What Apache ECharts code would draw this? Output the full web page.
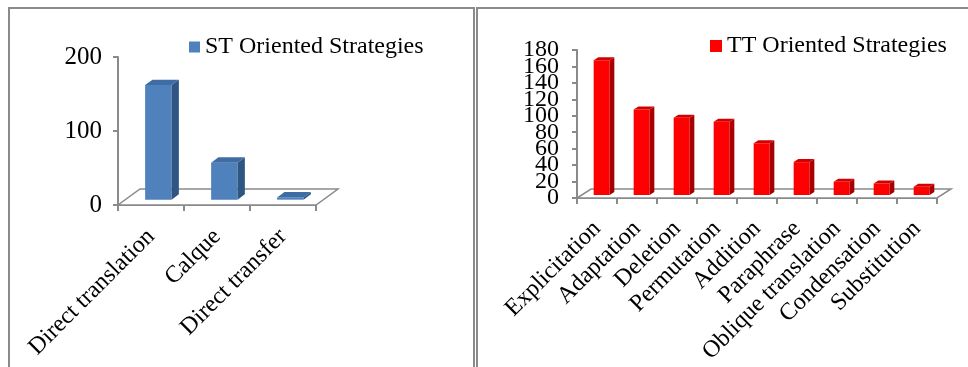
<!DOCTYPE html>
<html>
<head>
<meta charset="utf-8">
<script src="https://cdn.jsdelivr.net/npm/echarts@6/dist/echarts.min.js"></script>
<style>
  html, body { margin: 0; padding: 0; background: #fff; }
  #chart { width: 968px; height: 367px; }
</style>
</head>
<body>
<div id="chart"></div>
<script>
var stNames = ['Direct translation', 'Calque', 'Direct transfer'];
var stValues = [155, 50, 3];
var stTicks = [0, 100, 200];

var ttNames = ['Explicitation', 'Adaptation', 'Deletion', 'Permutation', 'Addition',
    'Paraphrase', 'Oblique translation', 'Condensation', 'Substitution'];
var ttValues = [164, 104, 94, 89, 63, 40, 16, 14, 10];
var ttTicks = [0, 20, 40, 60, 80, 100, 120, 140, 160, 180];

var serif = "'Liberation Serif', 'Times New Roman', serif";
var gray = '#8a8a8a';

// floor of the 3d plot, drawn from the grid rectangle
function floor(depth) {
    return function (params, api) {
        var c = params.coordSys;
        var y = c.y + c.height;
        return {
            type: 'polygon',
            shape: {points: [[c.x, y], [c.x + c.width, y],
                [c.x + c.width + depth[0], y + depth[1]], [c.x + depth[0], y + depth[1]]]},
            style: {fill: '#fff', stroke: gray, lineWidth: 1.5}
        };
    };
}

// 3d column: front, side and top faces
function bar3d(depth, front, side, top) {
    return function (params, api) {
        var i = api.value(0);
        var v = api.value(1);
        var base = api.coord([i, 0]);
        var high = api.coord([i, v]);
        var bw = api.size([1, 0])[0] * 0.4;
        var dx = depth[0] / 3, dy = depth[1] / 3;
        var x0 = base[0] - bw / 2 + dx, x1 = x0 + bw;
        var yb = base[1] + dy, yt = high[1] + dy;
        return {
            type: 'group',
            children: [{
                type: 'rect',
                shape: {x: x0, y: yt, width: bw, height: yb - yt},
                style: {fill: front}
            }, {
                type: 'polygon',
                shape: {points: [[x1, yb], [x1 + dx, yb + dy], [x1 + dx, yt + dy], [x1, yt]]},
                style: {fill: side}
            }, {
                type: 'polygon',
                shape: {points: [[x0, yt], [x1, yt], [x1 + dx, yt + dy], [x0 + dx, yt + dy]]},
                style: {fill: top}
            }]
        };
    };
}

function catAxis(idx, names, fs, margin) {
    return {
        type: 'category',
        gridIndex: idx,
        data: names,
        axisLine: {lineStyle: {color: gray, width: 2}},
        axisTick: {show: true, length: 6, lineStyle: {color: gray, width: 2}},
        axisLabel: {
            interval: 0, rotate: 45, margin: margin, hideOverlap: false,
            fontFamily: serif, fontSize: fs, color: '#000'
        }
    };
}

function valAxis(idx, ticks, fs, margin) {
    return {
        type: 'value',
        gridIndex: idx,
        position: 'left',
        min: ticks[0],
        max: ticks[ticks.length - 1],
        interval: ticks[1] - ticks[0],
        splitLine: {show: false},
        axisLine: {show: true, lineStyle: {color: gray, width: 2}},
        axisTick: {show: true, length: 5, lineStyle: {color: gray, width: 2}},
        axisLabel: {
            margin: margin, fontFamily: serif, fontSize: fs, color: '#000',
            showMinLabel: true, showMaxLabel: true
        }
    };
}

// the right axis labels overlap like in the source; echarts would drop the
// ones next to min/max, so the inner labels go on a twin axis
var ttAxis = valAxis(1, ttTicks, 24, 18);
var ttLast = ttTicks[ttTicks.length - 1];
ttAxis.axisLabel.formatter = function (v) {
    return (v === ttTicks[0] || v === ttLast) ? String(v) : '';
};
var ttInner = valAxis(1, ttTicks, 24, 18);
ttInner.axisLine = {show: false};
ttInner.axisTick = {show: false};
ttInner.axisLabel.showMinLabel = false;
ttInner.axisLabel.showMaxLabel = false;

var stDepth = [22, -16];
var ttDepth = [14, -9];

var option = {
    animation: false,
    backgroundColor: '#fff',
    graphic: [{
        type: 'rect',
        shape: {x: 9, y: 8, width: 465, height: 380},
        style: {fill: 'none', stroke: gray, lineWidth: 2}
    }, {
        type: 'rect',
        shape: {x: 477, y: 8, width: 520, height: 380},
        style: {fill: 'none', stroke: gray, lineWidth: 2}
    }],
    legend: [{
        data: ['ST Oriented Strategies'],
        left: 189, top: 35, padding: 0,
        itemWidth: 11, itemHeight: 11,
        icon: 'rect',
        textStyle: {fontFamily: serif, fontSize: 24, color: '#000'}
    }, {
        data: ['TT Oriented Strategies'],
        left: 710, top: 34, padding: 0,
        itemWidth: 12, itemHeight: 12,
        icon: 'rect',
        textStyle: {fontFamily: serif, fontSize: 24, color: '#000'}
    }],
    grid: [
        {left: 118, top: 57, width: 198, height: 148},
        {left: 577, top: 50, width: 360, height: 148}
    ],
    xAxis: [catAxis(0, stNames, 24, 28), catAxis(1, ttNames, 24, 27)],
    yAxis: [valAxis(0, stTicks, 25, 16), ttAxis, ttInner],
    series: [{
        type: 'custom',
        name: 'floor-st',
        xAxisIndex: 0, yAxisIndex: 0,
        silent: true,
        renderItem: floor(stDepth),
        data: [[0, 0]]
    }, {
        type: 'custom',
        name: 'floor-tt',
        xAxisIndex: 1, yAxisIndex: 1,
        silent: true,
        renderItem: floor(ttDepth),
        data: [[0, 0]]
    }, {
        type: 'custom',
        name: 'ST Oriented Strategies',
        xAxisIndex: 0, yAxisIndex: 0,
        itemStyle: {color: '#4F81BD'},
        renderItem: bar3d(stDepth, '#4F81BD', '#2F5683', '#3F6CA3'),
        encode: {x: 0, y: 1},
        data: stValues.map(function (v, i) { return [i, v]; })
    }, {
        type: 'custom',
        name: 'TT Oriented Strategies',
        xAxisIndex: 1, yAxisIndex: 1,
        itemStyle: {color: '#FF0000'},
        renderItem: bar3d(ttDepth, '#FF0000', '#A80000', '#D40000'),
        encode: {x: 0, y: 1},
        data: ttValues.map(function (v, i) { return [i, v]; })
    }]
};

var chart = echarts.init(document.getElementById('chart'));
chart.setOption(option);
</script>
</body>
</html>
